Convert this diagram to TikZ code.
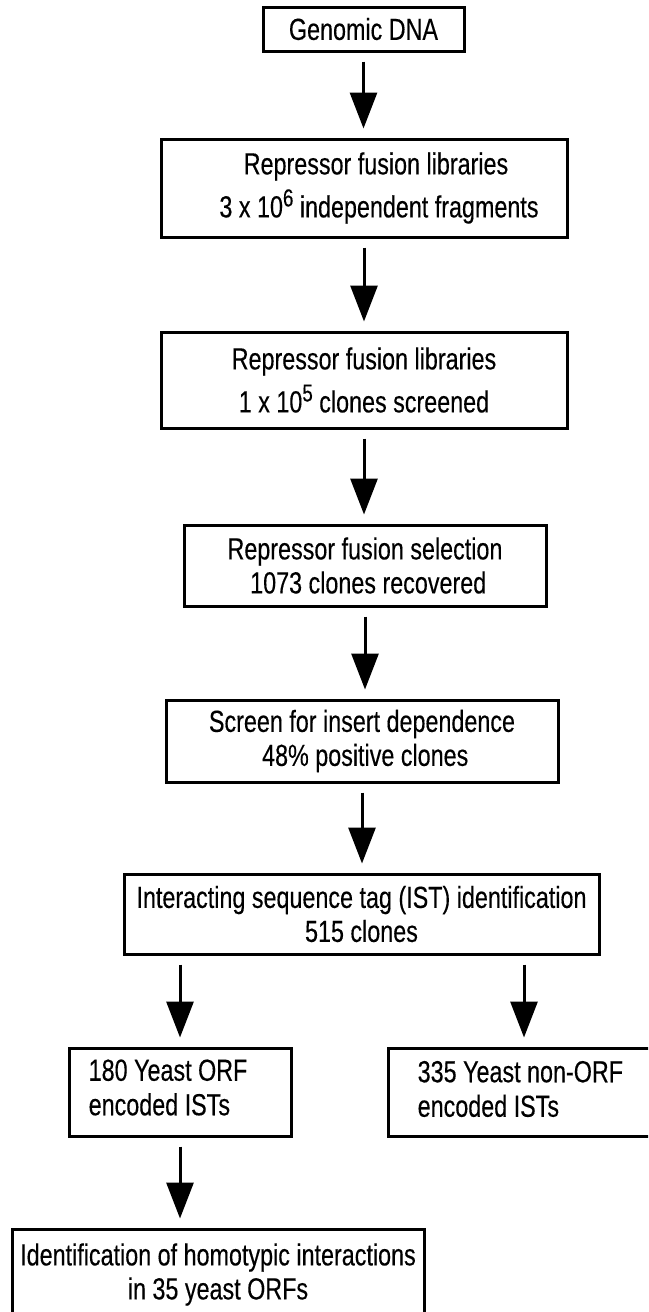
\documentclass[tikz,border=0pt]{standalone}
\usepackage{fontspec}
\setmainfont{Liberation Sans}[FakeStretch=0.765,FakeBold=0.3]
\usetikzlibrary{arrows.meta}
\newcommand{\supnum}[1]{\raisebox{11pt}[0pt][0pt]{\fontsize{24.5}{24.5}\selectfont #1}}
\begin{document}
\begin{tikzpicture}[x=1pt,y=-1pt,
  stepbox/.style={draw=black, line width=3pt, inner sep=0pt, align=center,
    font=\fontsize{30.5}{34}\selectfont},
  plainbox/.style={draw=black, line width=3pt, inner sep=0pt},
  boxtext/.style={inner sep=0pt, align=left, anchor=west,
    font=\fontsize{30.5}{34.5}\selectfont},
  flow/.style={draw=black, line width=3pt, -{Triangle[width=27pt,length=36pt]},
    shorten <=9pt, shorten >=9pt}]
\useasboundingbox (0,0) rectangle (648,1312);
\clip (0,0) rectangle (648,1312);
\fill[white] (0,0) rectangle (648,1312);

\node[stepbox, minimum width=201pt, minimum height=44pt] (g) at (363.5,29) {Genomic DNA};
\node[stepbox, minimum width=406pt, minimum height=98pt] (b2) at (364,188)
  {\hspace*{24pt}Repressor fusion libraries\\[9pt]\hspace*{30pt}3 x 10\supnum{6} independent fragments};
\node[stepbox, minimum width=406pt, minimum height=96pt] (b3) at (364,380)
  {Repressor fusion libraries\\[9pt] 1 x 10\supnum{5} clones screened};
\node[stepbox, minimum width=362pt, minimum height=81pt] (b4) at (365,565.5)
  {Repressor fusion selection\\ \ 1073 clones recovered};
\node[stepbox, minimum width=392pt, minimum height=82pt] (b5) at (362,741)
  {Screen for insert dependence\\ \ 48\% positive clones};
\node[stepbox, minimum width=475pt, minimum height=80pt] (ist) at (361.5,914)
  {Interacting sequence tag (IST) identification\\ 515 clones};
\node[plainbox, minimum width=222pt, minimum height=88pt] (l) at (180,1092) {};
\node[boxtext] (lt) at ([xshift=21pt,yshift=4.5pt]l.west) {180 Yeast ORF\\ encoded ISTs};
\node[plainbox, minimum width=272pt, minimum height=88pt] (r) at (524,1092) {};
\node[boxtext] (rt) at ([xshift=31pt,yshift=3pt]r.west) {335 Yeast non-ORF\\ encoded ISTs};
\node[stepbox, minimum width=412pt, minimum height=91pt] (bot) at (218,1274.5)
  {Identification of homotypic interactions\\ in 35 yeast ORFs};

\draw[flow] (g.south) -- (g.south |- b2.north);
\draw[flow] (b2.south) -- (b2.south |- b3.north);
\draw[flow] (b3.south) -- (b3.south |- b4.north);
\draw[flow] (b4.south) -- (b4.south |- b5.north);
\draw[flow] (b5.south) -- (b5.south |- ist.north);
\draw[flow] (ist.south -| l.north) -- (l.north);
\draw[flow] (ist.south -| r.north) -- (r.north);
\draw[flow] (l.south) -- (l.south |- bot.north);
\end{tikzpicture}
\end{document}
